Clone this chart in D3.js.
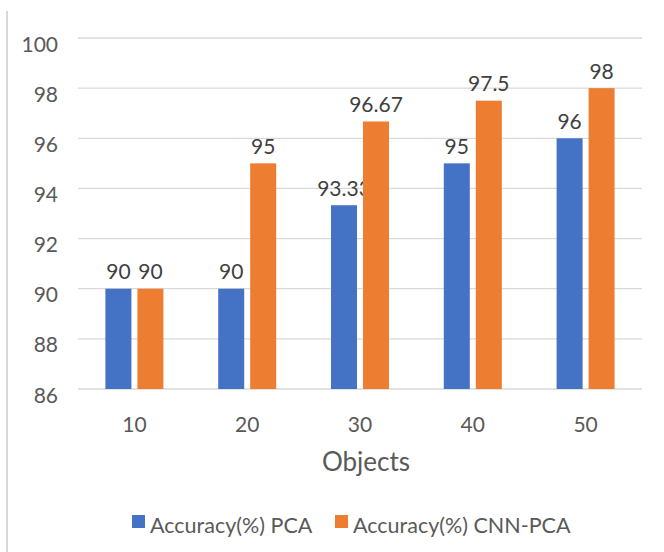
<!DOCTYPE html>
<html><head><meta charset="utf-8">
<script src="https://cdn.jsdelivr.net/npm/d3@7"></script>
<style>body{margin:0;background:#fff}svg{display:block}</style>
</head><body>
<script>
const categories = ["10","20","30","40","50"];
const seriesNames = ["Accuracy(%) PCA","Accuracy(%) CNN-PCA"];
const pcaValues = [90, 90, 93.33, 95, 96];
const cnnPcaValues = [90, 95, 96.67, 97.5, 98];
const valueLabels = [["90","90","93.33","95","96"],["90","95","96.67","97.5","98"]];
const yTicks = [86, 88, 90, 92, 94, 96, 98, 100];
const colors = ["#4472C4", "#ED7D31"];

const W = 664, H = 552;
const font = "Lato, 'Open Sans', sans-serif";
const svg = d3.select("body").append("svg").attr("width", W).attr("height", H);

svg.append("line").attr("x1", 7).attr("x2", 7).attr("y1", 11).attr("y2", H)
  .attr("stroke", "#d9d9d9").attr("stroke-width", 2);

const x = d3.scaleBand().domain(categories).range([78, 642]);
const y = d3.scaleLinear().domain([86, 100]).range([389, 38]);

// gridlines
svg.append("g").selectAll("line").data(yTicks).join("line")
  .attr("x1", 78).attr("x2", 642)
  .attr("y1", d => y(d)).attr("y2", d => y(d))
  .attr("stroke", "#d9d9d9").attr("stroke-width", 1.3);

// y axis labels
const yAxis = d3.axisLeft(y).tickValues(yTicks).tickSize(0).tickPadding(0);
const gy = svg.append("g").attr("transform", "translate(58,0)").call(yAxis);
gy.select(".domain").remove();
gy.selectAll("text").attr("font-family", font).attr("font-size", 21).attr("fill", "#595959")
  .attr("dy", null).attr("y", 13);

// x axis labels
const xAxis = d3.axisBottom(x).tickSize(0).tickPadding(0);
const gx = svg.append("g").attr("transform", "translate(0,0)").call(xAxis);
gx.select(".domain").remove();
gx.selectAll("text").attr("font-family", font).attr("font-size", 21).attr("fill", "#595959")
  .attr("dy", null).attr("y", 432);

const barW = 26, gap = 6;
const series = [pcaValues, cnnPcaValues];
series.forEach((vals, si) => {
  const off = si === 0 ? -(gap/2 + barW) : gap/2;
  const g = svg.append("g");
  g.selectAll("rect").data(vals).join("rect")
    .attr("x", (d, i) => x(categories[i]) + x.bandwidth()/2 + off)
    .attr("y", d => y(d))
    .attr("width", barW)
    .attr("height", d => y(86) - y(d))
    .attr("fill", colors[si]);
  g.selectAll("text").data(vals).join("text")
    .attr("x", (d, i) => x(categories[i]) + x.bandwidth()/2 + off + barW/2)
    .attr("y", d => y(d) - 9.5)
    .attr("text-anchor", "middle")
    .attr("font-family", font).attr("font-size", 21).attr("fill", "#404040")
    .text((d, i) => valueLabels[si][i]);
});

// axis title
svg.append("text").attr("x", 366).attr("y", 471).attr("text-anchor", "middle")
  .attr("font-family", font).attr("font-size", 26).attr("fill", "#595959").text("Objects");

// legend
const legX = [132, 335];
seriesNames.forEach((n, i) => {
  svg.append("rect").attr("x", legX[i]).attr("y", 515).attr("width", 13).attr("height", 13).attr("fill", colors[i]);
  svg.append("text").attr("x", legX[i] + 18).attr("y", 533)
    .attr("font-family", font).attr("font-size", 21.5).attr("fill", "#595959").text(n);
});
</script>
</body></html>
